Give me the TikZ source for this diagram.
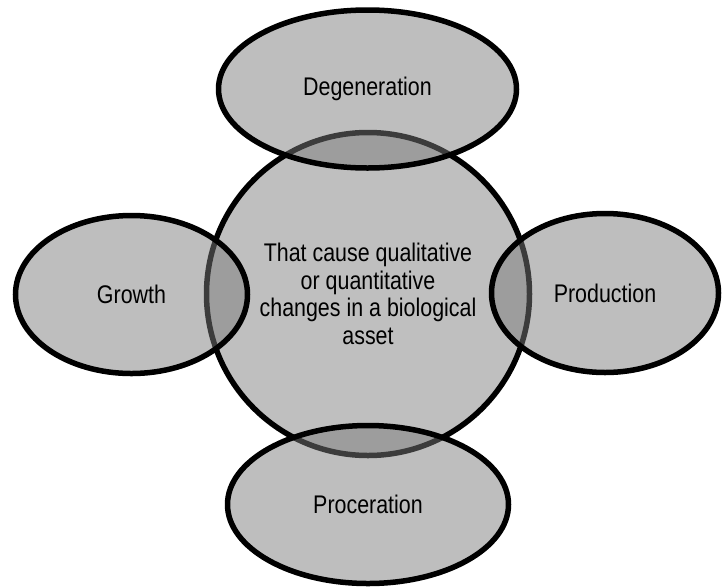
\documentclass[tikz,border=0pt]{standalone}
\usepackage{fontspec}
\setmainfont{Liberation Sans}[FakeStretch=0.84]
\usetikzlibrary{shapes.geometric}

\definecolor{corefill}{RGB}{191,191,191}
\definecolor{petalfill}{RGB}{123,123,123}

\begin{document}
\begin{tikzpicture}[
      x=1pt, y=-1pt,
      core/.style={circle, draw=black, line width=5.5pt, fill=corefill,
        minimum size=323pt, inner sep=0pt, align=center,
        font=\fontsize{25.5}{27.5}\selectfont},
      petal/.style={ellipse, draw=black, line width=5.5pt,
        fill=petalfill, fill opacity=0.49, text opacity=1,
        inner sep=0pt, align=center, font=\fontsize{25.5}{27.5}\selectfont}
    ]
    \useasboundingbox (0,0) rectangle (722,587);

    % ---- centre: the biological transformation ----
    \node[core] (core) at (368,294)
      {That cause qualitative\\ or quantitative\\
       changes in a biological\\ asset};

    % ---- the four processes round it ----
    \node[petal, minimum width=298pt, minimum height=158pt] (degen)  at (367.5,89)
      {Degeneration};
    \node[petal, minimum width=232pt, minimum height=158pt] (growth) at (131.5,294.5)
      {Growth};
    \node[petal, minimum width=227pt, minimum height=159pt] (prod)   at (605,293)
      {Production};
    \node[petal, minimum width=281pt, minimum height=158pt] (procer) at (368,504.5)
      {Proceration};
  \end{tikzpicture}
\end{document}
